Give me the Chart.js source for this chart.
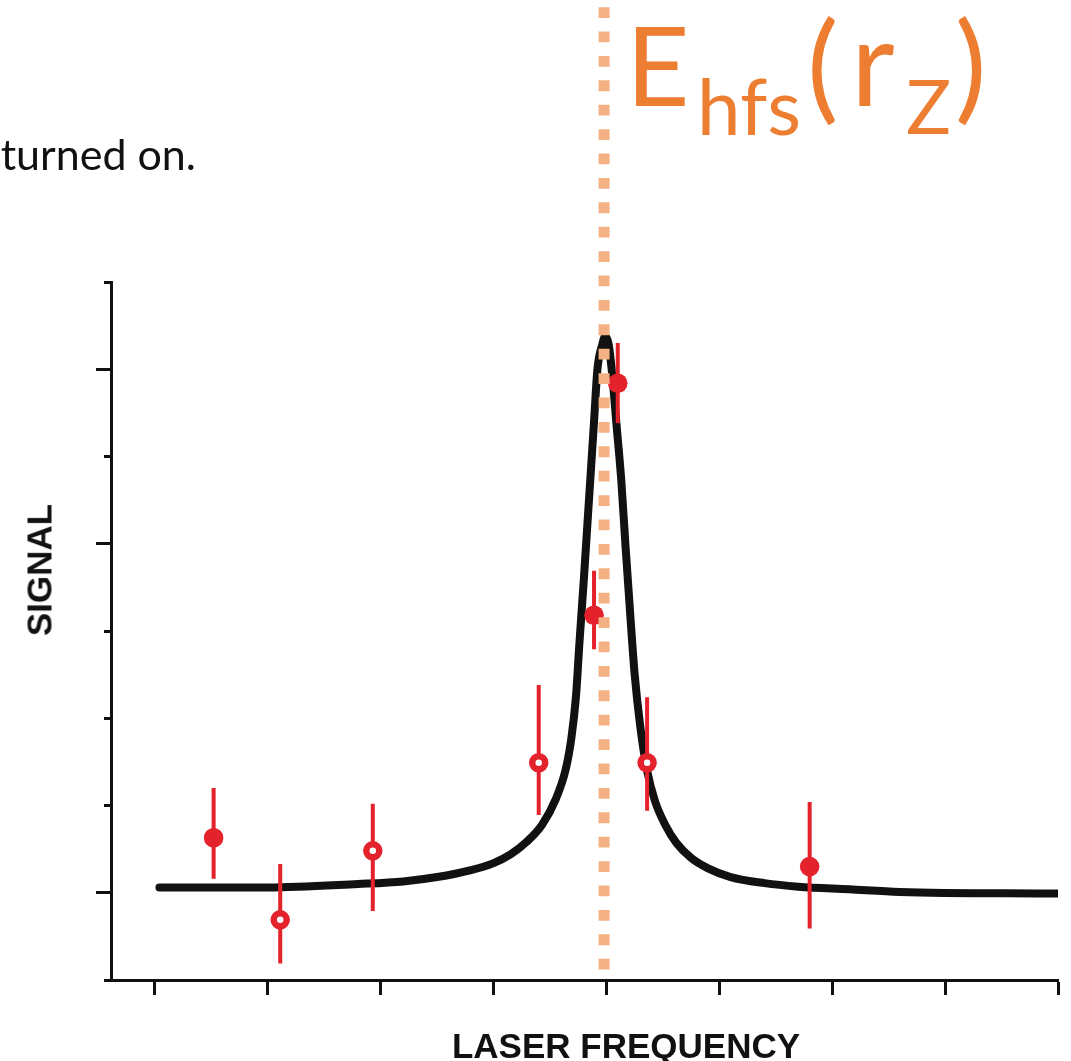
<!DOCTYPE html>
<html>
<head>
<meta charset="utf-8">
<script src="https://cdn.jsdelivr.net/npm/chart.js@4.4.1/dist/chart.umd.min.js"></script>
<style>
  body { margin: 0; background: #fff; width: 1071px; height: 1061px; overflow: hidden; position: relative; }
  #chart { position: absolute; left: 0; top: 0; }
  .note { position: absolute; right: 875px; top: 128px; font: 43px Lato, sans-serif; line-height: 1.2; color: #111; white-space: nowrap; }
  .eq span { position: absolute; font-family: Lato, sans-serif; color: #ED7D31; line-height: 1; white-space: nowrap; }
  .axis-title { position: absolute; font: bold 35px 'Liberation Sans', sans-serif; line-height: 1; color: #111; white-space: nowrap; }
  #xtitle { left: 626px; top: 1045px; transform: translate(-50%, -50%); }
  #ytitle { left: 39px; top: 570px; transform: translate(-50%, -50%) rotate(-90deg); }
</style>
</head>
<body>
<canvas id="chart" width="1071" height="1061"></canvas>
<div class="note">turned on.</div>
<div class="eq">
  <span style="left:626px; top:8px; font-size:110px;">E</span>
  <span style="left:697px; top:66px; font-size:78px;">hfs</span>
  <span style="left:807px; top:4px; font-size:118px;">(</span>
  <span style="left:851px; top:0px; font-size:120px;">r</span>
  <span style="left:906px; top:68px; font-size:75px;">Z</span>
  <span style="left:955px; top:4px; font-size:118px;">)</span>
</div>
<div class="axis-title" id="xtitle">LASER FREQUENCY</div>
<div class="axis-title" id="ytitle">SIGNAL</div>
<script>
// fitted resonance curve
const curveX = [0.04, 1.0, 1.8, 2.2, 2.5, 2.8, 3.0, 3.15, 3.29, 3.43, 3.55, 3.64, 3.69, 3.73, 3.76, 3.80, 3.83, 3.86, 3.89, 3.92, 3.96, 3.99, 4.02, 4.05, 4.09, 4.13, 4.17, 4.21, 4.25, 4.30, 4.36, 4.43, 4.52, 4.62, 4.75, 4.90, 5.10, 5.40, 5.70, 6.15, 6.60, 8.0];
const curveY = [0.06, 0.06, 0.10, 0.13, 0.18, 0.26, 0.34, 0.44, 0.58, 0.78, 1.07, 1.42, 1.78, 2.25, 2.85, 3.60, 4.20, 4.80, 5.40, 6.00, 6.27, 6.38, 6.28, 5.95, 5.35, 4.75, 3.95, 3.20, 2.50, 1.90, 1.40, 1.05, 0.78, 0.57, 0.40, 0.28, 0.18, 0.11, 0.07, 0.04, 0.01, -0.01];

// measured points with error bars
const ptX = [0.52, 1.11, 1.93, 3.40, 3.89, 4.10, 4.36, 5.80];
const ptY = [0.63, -0.31, 0.48, 1.49, 3.18, 5.84, 1.49, 0.30];
const ptHi = [1.20, 0.33, 1.02, 2.38, 3.69, 6.30, 2.24, 1.04];
const ptLo = [0.16, -0.81, -0.21, 0.89, 2.79, 5.38, 0.94, -0.41];
const ptOpen = [false, true, true, true, false, false, true, false];

// vertical marker E_hfs(r_Z)
const markerX = 3.979;
const markerTop = 10.15;
const markerBottom = -0.89;

const xTicks = [0, 1, 2, 3, 4, 5, 6, 7, 8];
const yTicks = [-1, 0, 1, 2, 3, 4, 5, 6, 7];
const yLongTicks = [0, 4, 6];

const red = '#E4222B';
const ink = '#111';

const curve = curveX.map((x, i) => ({ x: x, y: curveY[i] }));
const points = ptX.map((x, i) => ({ x: x, y: ptY[i] }));
const bars = [];
ptX.forEach((x, i) => {
  bars.push({ x: x, y: ptLo[i] }, { x: x, y: ptHi[i] }, { x: x, y: null });
});

new Chart(document.getElementById('chart'), {
  type: 'scatter',
  data: {
    datasets: [
      {
        data: [{ x: markerX, y: markerTop }, { x: markerX, y: markerBottom }],
        showLine: true,
        borderColor: '#F4B183',
        borderWidth: 11,
        borderDash: [10.8, 13.6],
        pointRadius: 0,
        clip: false,
        order: 0,
      },
      {
        data: points,
        pointRadius: ptOpen.map(o => (o ? 6.5 : 9.8)),
        pointBorderWidth: ptOpen.map(o => (o ? 6.5 : 0)),
        pointBorderColor: red,
        pointBackgroundColor: ptOpen.map(o => (o ? '#fff' : red)),
        order: 1,
      },
      {
        data: bars,
        showLine: true,
        spanGaps: false,
        borderColor: red,
        borderWidth: 4,
        pointRadius: 0,
        order: 2,
      },
      {
        data: curve,
        showLine: true,
        borderColor: ink,
        borderWidth: 8,
        borderCapStyle: 'round',
        borderJoinStyle: 'round',
        cubicInterpolationMode: 'monotone',
        pointRadius: 0,
        order: 3,
      },
    ],
  },
  options: {
    responsive: false,
    animation: false,
    devicePixelRatio: 1,
    layout: { padding: { left: 0, right: 10, top: 282, bottom: 0 } },
    plugins: { legend: { display: false }, tooltip: { enabled: false } },
    scales: {
      x: {
        type: 'linear',
        min: -0.389,
        max: 8.0,
        afterBuildTicks: (s) => { s.ticks = xTicks.map(v => ({ value: v })); },
        afterFit: (s) => { s.height = 81; },
        ticks: { display: false },
        grid: { drawOnChartArea: false, tickLength: 15, tickWidth: 3, tickColor: ink },
        border: { display: true, width: 3, color: ink },
      },
      y: {
        type: 'linear',
        min: -1,
        max: 7,
        weight: 0,
        afterBuildTicks: (s) => { s.ticks = yTicks.map(v => ({ value: v })); },
        ticks: { display: false },
        grid: { drawOnChartArea: false, tickLength: 7, tickWidth: 3, tickColor: ink },
        border: { display: true, width: 3, color: ink },
      },
      yLong: {
        type: 'linear',
        position: 'left',
        min: -1,
        max: 7,
        weight: 1,
        afterBuildTicks: (s) => { s.ticks = yLongTicks.map(v => ({ value: v })); },
        afterFit: (s) => { s.width = 104; },
        ticks: { display: false },
        grid: { drawOnChartArea: false, tickLength: 8, tickWidth: 3, tickColor: ink },
        border: { display: false },
      },
    },
  },
});
</script>
</body>
</html>
